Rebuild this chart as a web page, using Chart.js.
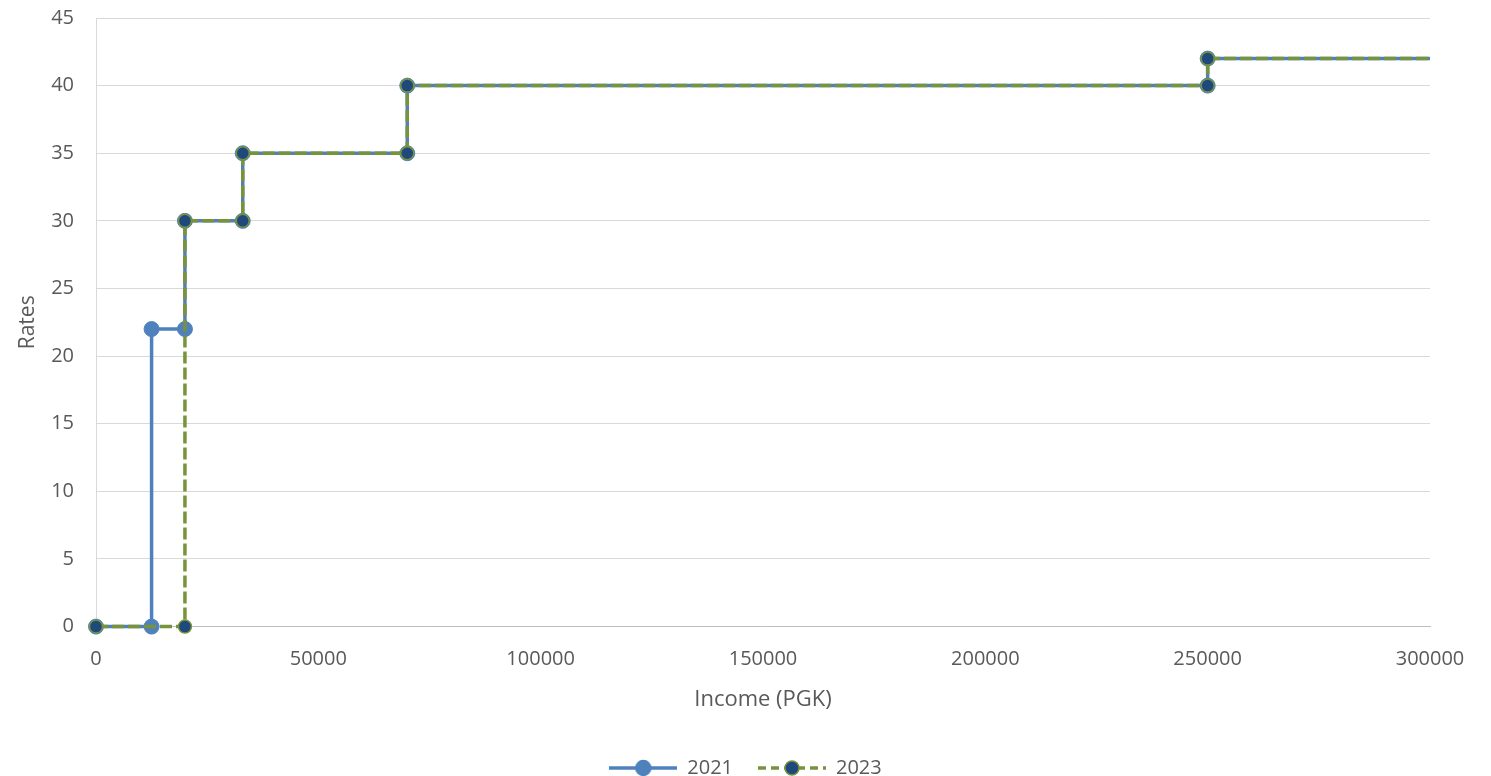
<!DOCTYPE html>
<html>
<head>
<meta charset="utf-8">
<title>Income tax rates 2021 vs 2023</title>
<script src="https://cdn.jsdelivr.net/npm/chart.js@4.4.1/dist/chart.umd.min.js"></script>
<style>
  html, body { margin: 0; padding: 0; background: #ffffff; }
  #wrap { width: 1491px; height: 776px; position: relative; }
</style>
</head>
<body>
<div id="wrap"><canvas id="chart" width="1491" height="776"></canvas></div>
<script>
// Step schedule of marginal tax rates by income (PGK)
const income2021 = [0, 12500, 12500, 20000, 20000, 33000, 33000, 70000, 70000, 250000, 250000, 300000];
const rates2021  = [0, 0, 22, 22, 30, 30, 35, 35, 40, 40, 42, 42];
const income2023 = [0, 20000, 20000, 33000, 33000, 70000, 70000, 250000, 250000, 300000];
const rates2023  = [0, 0, 30, 30, 35, 35, 40, 40, 42, 42];
const seriesNames = ['2021', '2023'];
const xTicks = [0, 50000, 100000, 150000, 200000, 250000, 300000];
const yTicks = [0, 5, 10, 15, 20, 25, 30, 35, 40, 45];

const BLUE = '#4F81BD';
const GREEN = '#77933C';
const NAVY = '#1F497D';
const TEXT = '#595959';
const FONT = "'Open Sans', 'DejaVu Sans', sans-serif";
const DASH = [12, 4];

const toPoints = (xs, ys) => xs.map((x, i) => ({ x, y: ys[i] }));
// the open-ended top bracket runs to the edge without a marker
const radii = (n, r) => Array.from({ length: n }, (_, i) => (i === n - 1 ? 0 : r));

// legend swatches: a short line with a marker in the middle
function swatch(color, dash, fill, border, r) {
  const c = document.createElement('canvas');
  c.width = 68; c.height = 20;
  const g = c.getContext('2d');
  g.strokeStyle = color; g.lineWidth = 3.5; g.setLineDash(dash);
  g.beginPath(); g.moveTo(0, 10); g.lineTo(68, 10); g.stroke();
  g.setLineDash([]);
  g.beginPath(); g.arc(34, 10, r, 0, Math.PI * 2);
  g.fillStyle = fill; g.fill();
  g.lineWidth = 1.5; g.strokeStyle = border; g.stroke();
  return c;
}
const swatches = [
  swatch(BLUE, [], BLUE, BLUE, 7.5),
  swatch(GREEN, [8, 5], NAVY, GREEN, 7)
];

new Chart(document.getElementById('chart'), {
  type: 'line',
  data: {
    datasets: [
      {
        label: seriesNames[0],
        data: toPoints(income2021, rates2021),
        borderColor: BLUE,
        backgroundColor: BLUE,
        borderWidth: 3.5,
        pointRadius: radii(income2021.length, 7.5),
        pointBackgroundColor: BLUE,
        pointBorderColor: BLUE,
        pointBorderWidth: 1,
        pointStyle: 'circle',
        clip: false,
        order: 2
      },
      {
        label: seriesNames[1],
        data: toPoints(income2023, rates2023),
        borderColor: GREEN,
        backgroundColor: NAVY,
        borderWidth: 3.5,
        borderDash: DASH,
        pointRadius: radii(income2023.length, 6.5),
        pointBackgroundColor: NAVY,
        pointBorderColor: GREEN,
        pointBorderWidth: 1.5,
        pointStyle: 'circle',
        clip: false,
        order: 1
      }
    ]
  },
  options: {
    responsive: false,
    animation: false,
    devicePixelRatio: 1,
    layout: { padding: { left: 0, right: 0, top: 0, bottom: -12 } },
    elements: { line: { tension: 0, fill: false } },
    plugins: {
      tooltip: { enabled: false },
      legend: {
        position: 'bottom',
        labels: {
          font: { family: FONT, size: 20 },
          color: TEXT,
          usePointStyle: true,
          pointStyleWidth: 68,
          padding: 25,
          sort: (a, b) => a.datasetIndex - b.datasetIndex,
          generateLabels: (chart) => chart.data.datasets.map((ds, i) => ({
            text: ds.label,
            datasetIndex: i,
            pointStyle: swatches[i],
            fontColor: TEXT,
            lineWidth: 0,
            strokeStyle: 'transparent',
            fillStyle: 'transparent',
            hidden: false
          }))
        }
      }
    },
    scales: {
      x: {
        type: 'linear',
        min: 0,
        max: 300000,
        afterBuildTicks: (s) => { s.ticks = xTicks.map(v => ({ value: v })); },
        afterFit: (s) => { s.paddingRight = 61; },
        ticks: {
          font: { family: FONT, size: 20 },
          color: TEXT,
          padding: 21,
          maxRotation: 0,
          callback: (v) => String(v)
        },
        grid: { display: false, drawTicks: false },
        border: { display: true, color: '#BFBFBF', width: 1 },
        title: {
          display: true,
          text: 'Income (PGK)',
          font: { family: FONT, size: 22 },
          color: TEXT,
          padding: { top: -6, bottom: 20 }
        }
      },
      y: {
        type: 'linear',
        min: 0,
        max: 45,
        afterBuildTicks: (s) => { s.ticks = yTicks.map(v => ({ value: v })); },
        afterFit: (s) => { s.width = 96; s.paddingTop = 18; },
        ticks: {
          font: { family: FONT, size: 20 },
          color: TEXT,
          padding: 22,
          callback: (v) => String(v)
        },
        grid: { color: '#D9D9D9', lineWidth: 1, drawTicks: false },
        border: { display: true, color: '#D9D9D9', width: 1 },
        title: {
          display: true,
          text: 'Rates',
          font: { family: FONT, size: 21 },
          color: TEXT,
          padding: { top: 15, bottom: 0 }
        }
      }
    }
  }
});
</script>
</body>
</html>
